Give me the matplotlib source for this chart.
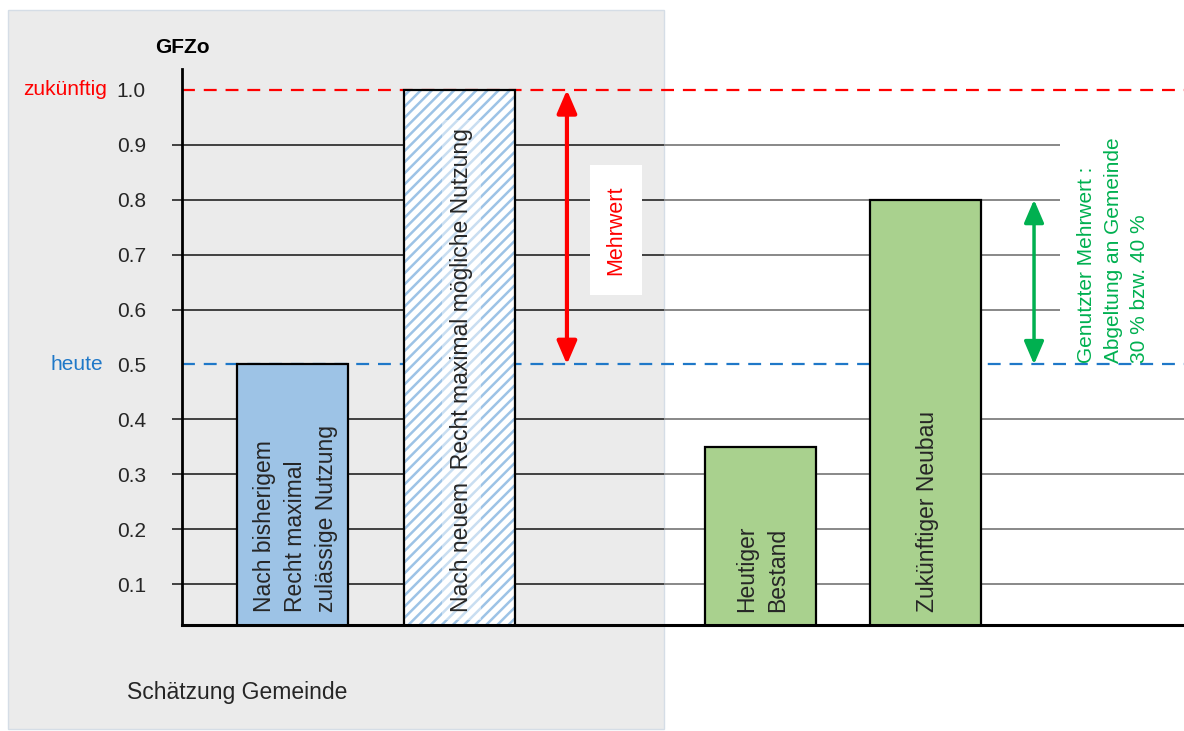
import matplotlib
matplotlib.use("Agg")
import matplotlib.pyplot as plt
from matplotlib.patches import Rectangle

plt.rcParams['font.family'] = ['Liberation Sans', 'DejaVu Sans']
plt.rcParams['hatch.linewidth'] = 1.8

# data
labels = ["Nach bisherigem\nRecht maximal\nzulässige Nutzung",
          "Nach neuem  Recht maximal mögliche Nutzung",
          "Heutiger\nBestand",
          "Zukünftiger Neubau"]
values = [0.5, 1.0, 0.35, 0.8]
positions = [1.0, 2.5, 5.21, 6.7]
heute = 0.5
zukuenftig = 1.0
genutzt = 0.8
yticks = [0.1, 0.2, 0.3, 0.4, 0.5, 0.6, 0.7, 0.8, 0.9, 1.0]
ytick_labels = ["0.1", "0.2", "0.3", "0.4", "0.5", "0.6", "0.7", "0.8", "0.9", "1.0"]

dark = '#262626'
blue = '#9DC3E6'
green = '#A9D18E'
red = '#FF0000'
line_blue = '#1F78C8'
txt_green = '#00B050'

fig = plt.figure(figsize=(11.84, 7.31), dpi=100)

# grey panel behind left part
fig.patches.append(Rectangle((0.0068, 0.0027), 0.554, 0.9836, transform=fig.transFigure,
                             facecolor='#EBEBEB', edgecolor='#D5DDE6', lw=1, zorder=-10))

ax = fig.add_axes([0.1537, 0.145, 0.8463, 0.7606])
ax.patch.set_alpha(0)
ax.set_xlim(0, 9.027)
ax.set_ylim(0.0255, 1.038)

for s in ['top', 'right']:
    ax.spines[s].set_visible(False)
ax.spines['left'].set_linewidth(2)
ax.spines['bottom'].set_linewidth(2.2)
ax.spines['left'].set_zorder(5)
ax.spines['bottom'].set_zorder(5)

ax.set_xticks([])
ax.set_yticks(yticks)
ax.set_yticklabels(ytick_labels, fontsize=15, color=dark)
ax.tick_params(axis='y', length=0, pad=26)

# gridlines (split at grey panel edge)
split = 4.342
for t in yticks:
    if t in (heute, zukuenftig):
        continue
    end = 7.91 if t > heute else 9.027
    ax.hlines(t, -0.09, split, color='#333333', lw=1.3, zorder=1, clip_on=False)
    ax.hlines(t, split, end, color='#7F7F7F', lw=1.3, zorder=1, clip_on=False)

# reference lines
ax.axhline(zukuenftig, color=red, lw=1.6, ls=(0, (5.8, 4)), zorder=2)
ax.axhline(heute, color=line_blue, lw=1.6, ls=(0, (5.8, 4)), zorder=2)

# bars
ax.bar(positions[0], values[0], width=1.0, color=blue, edgecolor='black', lw=1.6, zorder=3)
ax.bar(positions[1], values[1], width=1.0, color='white', edgecolor=blue, lw=0, hatch='///', zorder=3)
ax.bar(positions[1], values[1], width=1.0, fill=False, edgecolor='black', lw=1.6, zorder=4)
ax.bar(positions[2], values[2], width=1.0, color=green, edgecolor='black', lw=1.6, zorder=3)
ax.bar(positions[3], values[3], width=1.0, color=green, edgecolor='black', lw=1.6, zorder=3)

for i, (x, lab) in enumerate(zip(positions, labels)):
    kw = {}
    if i == 1:
        kw['bbox'] = dict(facecolor='white', edgecolor='none', alpha=0.45, pad=6)
    ax.text(x + 0.02, 0.049, lab, rotation=90, ha='center', va='bottom',
            multialignment='left', linespacing=1.45, fontsize=16.5, color=dark, zorder=6, **kw)

# arrows
ax.annotate('', xy=(3.468, zukuenftig), xytext=(3.468, heute),
            arrowprops=dict(arrowstyle='<|-|>,head_length=1.4,head_width=0.6',
                            color=red, lw=3, shrinkA=0, shrinkB=0), zorder=6)
ax.annotate('', xy=(7.676, genutzt), xytext=(7.676, heute),
            arrowprops=dict(arrowstyle='<|-|>,head_length=1.4,head_width=0.6',
                            color=txt_green, lw=2.5, shrinkA=0, shrinkB=0), zorder=6)

# Mehrwert box
ax.add_patch(Rectangle((3.676, 0.6266), 0.468, 0.2368, facecolor='white', edgecolor='none', zorder=5))
ax.text(3.91, 0.745, "Mehrwert", rotation=90, ha='center', va='center',
        fontsize=15.5, color=red, zorder=6)

ax.text(8.39, 0.503, "Genutzter Mehrwert :\nAbgeltung an Gemeinde\n30 % bzw. 40 %",
        rotation=90, ha='center', va='bottom', multialignment='left', linespacing=1.5,
        fontsize=15, color=txt_green, zorder=6)

# side labels
ax.text(-0.676, zukuenftig, "zukünftig", ha='right', va='center', fontsize=15,
        color=red, clip_on=False)
ax.text(-0.71, heute, "heute", ha='right', va='center', fontsize=15,
        color=line_blue, clip_on=False)
ax.text(0.0, 1.077, "GFZo", ha='center', va='center', fontsize=15,
        fontweight='bold', color='black', clip_on=False)

fig.text(0.1073, 0.052, "Schätzung Gemeinde", ha='left', va='center', fontsize=16.5, color=dark)

fig.savefig("out.png", dpi=100)
